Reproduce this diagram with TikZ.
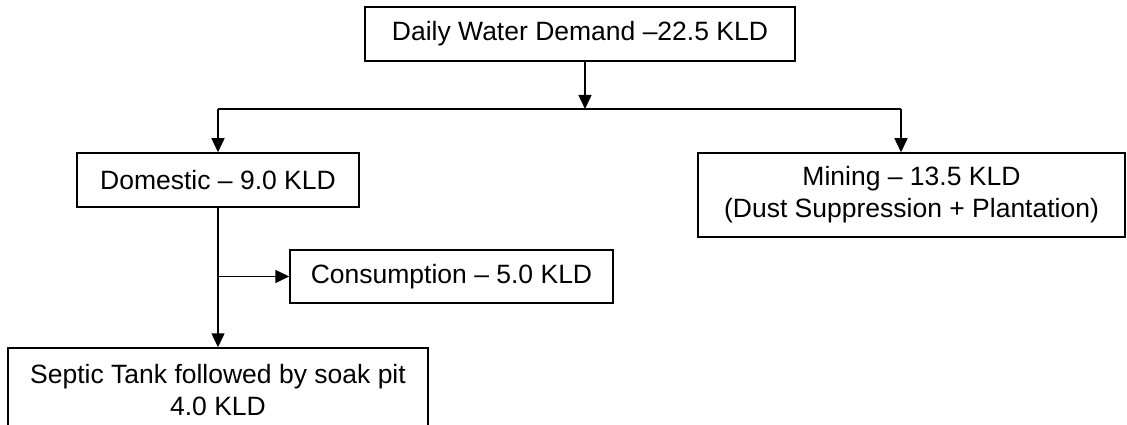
\documentclass[tikz,border=0pt]{standalone}
\usepackage{fontspec}
\setmainfont{Liberation Sans}
\usetikzlibrary{arrows.meta}
\begin{document}
\begin{tikzpicture}[x=1pt,y=-1pt,
  box/.style={draw=black,line width=1.5pt,inner sep=0pt,align=center,
    font=\fontsize{26.5}{32}\selectfont},
  line/.style={line width=1.5pt},
  arr/.style={line width=1.5pt,-{Triangle[length=14pt,width=13pt]}}]
\useasboundingbox (0,0) rectangle (1127,425);
\clip (0,0) rectangle (1127,425);
\fill[white] (0,0) rectangle (1127,425);
\node[box,minimum width=430pt,minimum height=54pt] (top) at (580,34) {Daily Water Demand –22.5 KLD};
\node[box,minimum width=282pt,minimum height=54pt] (dom) at (218,180) {Domestic – 9.0 KLD};
\node[box,minimum width=427pt,minimum height=84pt] (min) at (911.5,195) {Mining – 13.5 KLD\\(Dust Suppression + Plantation)};
\node[box,minimum width=323pt,minimum height=53pt] (con) at (451.5,276.5) {Consumption – 5.0 KLD};
\node[box,minimum width=420pt,minimum height=84pt] (sep) at (218,390) {Septic Tank followed by soak pit\\4.0 KLD};
\coordinate (j) at (585,109);
\coordinate (jl) at (dom.north |- j);
\coordinate (jr) at (901,109);
\draw[arr] (top.south -| j) -- (j);
\draw[line] (jl) -- (jr);
\draw[arr] (jl) -- (dom.north);
\draw[arr] (jr) -- (jr |- min.north);
\draw[arr] (dom.south) -- (sep.north);
\coordinate (b) at (dom.south |- con.west);
\draw[arr] (b) -- (con.west);
\end{tikzpicture}
\end{document}
